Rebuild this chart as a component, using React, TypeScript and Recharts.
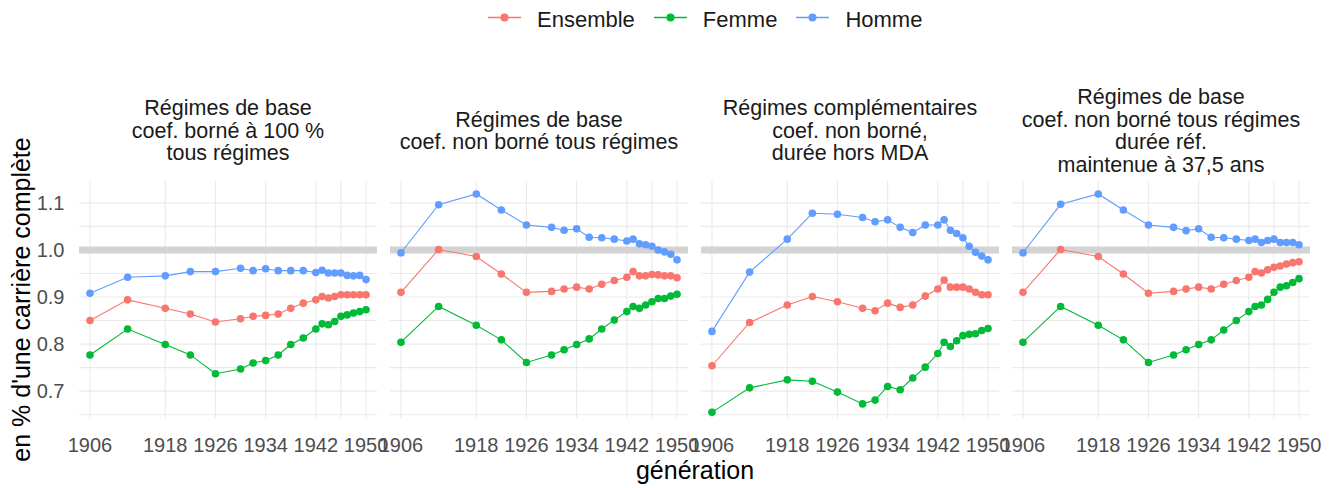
import { LineChart, Line, XAxis, YAxis, CartesianGrid, ReferenceLine } from "recharts"

const years = [1906, 1912, 1918, 1922, 1926, 1930, 1932, 1934, 1936, 1938, 1940, 1942, 1943, 1944, 1945, 1946, 1947, 1948, 1949, 1950]

const xTicks = [1906, 1918, 1926, 1934, 1942, 1950]
const xGrid = [1906, 1918, 1926, 1934, 1942, 1946, 1950]
const yTicks = [0.7, 0.8, 0.9, 1.0, 1.1]
const yGrid = [0.65, 0.7, 0.75, 0.8, 0.85, 0.9, 0.95, 1.0, 1.05, 1.1]

const seriesNames = ["Ensemble", "Femme", "Homme"]
const COLORS = ["#F8766D", "#00BA38", "#619CFF"]

// panel 1 : régimes de base, coef. borné
const p1Ensemble = [0.850, 0.894, 0.876, 0.864, 0.847, 0.854, 0.859, 0.861, 0.864, 0.876, 0.887, 0.894, 0.901, 0.898, 0.901, 0.905, 0.905, 0.905, 0.905, 0.905]
const p1Femme = [0.777, 0.832, 0.799, 0.777, 0.737, 0.747, 0.760, 0.765, 0.777, 0.799, 0.813, 0.832, 0.843, 0.841, 0.848, 0.859, 0.862, 0.866, 0.869, 0.873]
const p1Homme = [0.908, 0.942, 0.945, 0.954, 0.954, 0.961, 0.956, 0.960, 0.956, 0.956, 0.956, 0.952, 0.957, 0.951, 0.951, 0.951, 0.946, 0.945, 0.946, 0.937]

// panel 2 : régimes de base, coef. non borné
const p2Ensemble = [0.910, 1.001, 0.986, 0.949, 0.910, 0.912, 0.917, 0.921, 0.917, 0.927, 0.935, 0.942, 0.954, 0.945, 0.945, 0.948, 0.947, 0.945, 0.945, 0.941]
const p2Femme = [0.804, 0.880, 0.840, 0.809, 0.761, 0.777, 0.788, 0.799, 0.811, 0.832, 0.851, 0.869, 0.880, 0.876, 0.883, 0.890, 0.897, 0.897, 0.902, 0.906]
const p2Homme = [0.994, 1.096, 1.119, 1.085, 1.053, 1.048, 1.042, 1.045, 1.027, 1.026, 1.023, 1.019, 1.023, 1.013, 1.011, 1.008, 1.000, 0.996, 0.991, 0.979]

// panel 3 : régimes complémentaires
const p3Ensemble = [0.754, 0.846, 0.883, 0.901, 0.890, 0.876, 0.871, 0.887, 0.878, 0.883, 0.902, 0.917, 0.936, 0.921, 0.921, 0.921, 0.917, 0.910, 0.905, 0.905]
const p3Femme = [0.655, 0.707, 0.724, 0.721, 0.698, 0.673, 0.681, 0.710, 0.703, 0.728, 0.751, 0.780, 0.804, 0.795, 0.807, 0.818, 0.821, 0.822, 0.829, 0.833]
const p3Homme = [0.827, 0.953, 1.023, 1.078, 1.076, 1.069, 1.060, 1.064, 1.048, 1.037, 1.053, 1.053, 1.064, 1.042, 1.035, 1.026, 1.008, 0.995, 0.987, 0.979]

// panel 4 : durée de référence maintenue à 37,5 ans
const p4Ensemble = [0.910, 1.001, 0.986, 0.949, 0.908, 0.912, 0.917, 0.921, 0.917, 0.927, 0.935, 0.942, 0.954, 0.951, 0.958, 0.963, 0.966, 0.970, 0.973, 0.975]
const p4Femme = [0.804, 0.880, 0.840, 0.809, 0.761, 0.777, 0.788, 0.799, 0.809, 0.830, 0.850, 0.869, 0.880, 0.883, 0.895, 0.910, 0.921, 0.924, 0.931, 0.939]
const p4Homme = [0.994, 1.097, 1.119, 1.085, 1.053, 1.048, 1.041, 1.045, 1.027, 1.026, 1.023, 1.020, 1.023, 1.016, 1.020, 1.023, 1.016, 1.016, 1.016, 1.011]

const p1Title = ["Régimes de base", "coef. borné à 100 %", "tous régimes"]
const p2Title = ["Régimes de base", "coef. non borné tous régimes"]
const p3Title = ["Régimes complémentaires", "coef. non borné,", "durée hors MDA"]
const p4Title = ["Régimes de base", "coef. non borné tous régimes", "durée réf.", "maintenue à 37,5 ans"]

const panels = [
  { title: p1Title, series: [p1Ensemble, p1Femme, p1Homme] },
  { title: p2Title, series: [p2Ensemble, p2Femme, p2Homme] },
  { title: p3Title, series: [p3Ensemble, p3Femme, p3Homme] },
  { title: p4Title, series: [p4Ensemble, p4Femme, p4Homme] },
]

const FONT = '"Liberation Sans", Arial, sans-serif'
const PANEL_W = 298
const GAP = 13
const LEFT = 79
const PLOT_TOP = 181
const PLOT_H = 237
const XAXIS_H = 40

function Panel({ index }: { index: number }) {
  const panel = panels[index]
  const data = years.map((year, i) => {
    const row: Record<string, number> = { year }
    seriesNames.forEach((name, s) => {
      row[name] = panel.series[s][i]
    })
    return row
  })
  const showY = index === 0
  const left = showY ? 0 : LEFT + index * (PANEL_W + GAP)
  const width = showY ? LEFT + PANEL_W : PANEL_W
  const center = LEFT + index * (PANEL_W + GAP) + PANEL_W / 2

  return (
    <>
      <div
        style={{
          position: "absolute",
          left: center - 170,
          width: 340,
          top: 131 - (panel.title.length * 22.5) / 2,
          textAlign: "center",
          fontSize: 21.5,
          lineHeight: "22.5px",
          color: "#1a1a1a",
        }}
      >
        {panel.title.map((line) => (
          <div key={line}>{line}</div>
        ))}
      </div>
      <div style={{ position: "absolute", left, top: PLOT_TOP }}>
        <LineChart width={width} height={PLOT_H + XAXIS_H} data={data} margin={{ top: 0, right: 0, bottom: 0, left: 0 }}>
          <CartesianGrid stroke="#ebebeb" strokeWidth={1.1} horizontalValues={yGrid} verticalValues={xGrid} />
          <XAxis
            dataKey="year"
            type="number"
            domain={[1904.25, 1951.75]}
            ticks={xTicks}
            interval={0}
            height={XAXIS_H}
            tickLine={false}
            axisLine={false}
            tickMargin={14}
            tick={{ fill: "#4d4d4d", fontSize: 20 }}
          />
          <YAxis
            type="number"
            domain={[0.643, 1.1465]}
            ticks={yTicks}
            hide={!showY}
            width={LEFT}
            tickLine={false}
            axisLine={false}
            tickMargin={8.5}
            tickFormatter={(v: number) => v.toFixed(1)}
            tick={{ fill: "#4d4d4d", fontSize: 20 }}
          />
          <ReferenceLine y={1} stroke="#d3d3d3" strokeWidth={7} />
          {seriesNames.map((name, s) => (
            <Line
              key={name}
              dataKey={name}
              type="linear"
              stroke={COLORS[s]}
              strokeWidth={1.1}
              dot={{ r: 3.8, fill: COLORS[s], stroke: COLORS[s], strokeWidth: 0 }}
              isAnimationActive={false}
            />
          ))}
        </LineChart>
      </div>
    </>
  )
}

function Legend() {
  return (
    <div style={{ position: "absolute", left: 488, top: 8.7, display: "flex", fontSize: 22, lineHeight: "22px", color: "#1a1a1a" }}>
      {seriesNames.map((name, s) => (
        <div key={name} style={{ display: "flex", marginRight: 19 }}>
          <svg width={33} height={22} style={{ marginRight: 16 }}>
            <line x1={0} x2={33} y1={8.6} y2={8.6} stroke={COLORS[s]} strokeWidth={1.5} />
            <circle cx={16.5} cy={8.6} r={4} fill={COLORS[s]} />
          </svg>
          <span>{name}</span>
        </div>
      ))}
    </div>
  )
}

export default function App() {
  return (
    <div style={{ position: "absolute", left: 0, top: 0, width: 1339, height: 488, background: "#fff", fontFamily: FONT, overflow: "hidden" }}>
      <style>{`.recharts-surface { overflow: visible; }`}</style>
      <Legend />
      {panels.map((_, i) => (
        <Panel key={i} index={i} />
      ))}
      <div
        style={{
          position: "absolute",
          left: 21 - 200,
          top: 299.5 - 12.5,
          width: 400,
          height: 25,
          lineHeight: "25px",
          fontSize: 25,
          textAlign: "center",
          transform: "rotate(-90deg)",
          color: "#000",
          whiteSpace: "nowrap",
        }}
      >
        en % d'une carrière complète
      </div>
      <div style={{ position: "absolute", left: 495, width: 400, top: 458, fontSize: 25, lineHeight: "25px", textAlign: "center", color: "#000" }}>
        génération
      </div>
    </div>
  )
}
